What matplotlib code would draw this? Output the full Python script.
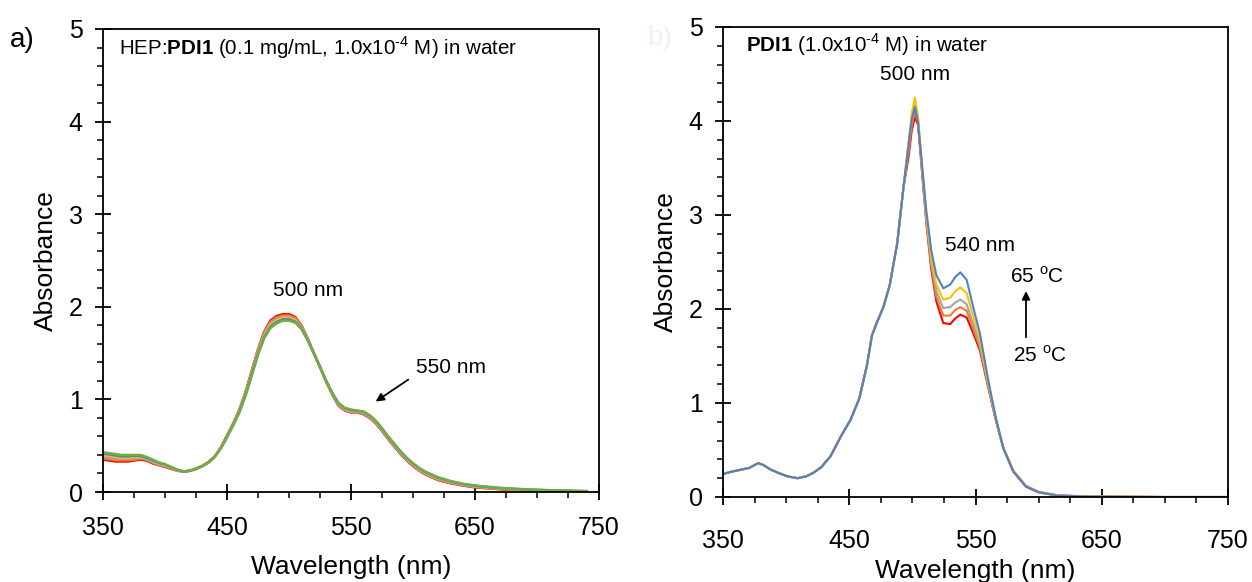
import numpy as np
import matplotlib
matplotlib.use('Agg')
import matplotlib.pyplot as plt
from matplotlib.ticker import MultipleLocator

plt.rcParams['font.family'] = ['Liberation Sans', 'DejaVu Sans']
plt.rcParams['mathtext.fontset'] = 'custom'
plt.rcParams['mathtext.rm'] = 'Liberation Sans'
plt.rcParams['mathtext.bf'] = 'Liberation Sans:bold'

# ---- panel a: HEP:PDI1 in water, six temperatures ----
wl_a = [350, 355, 360, 365, 370, 375, 380, 385, 390, 395,
        400, 405, 410, 415, 420, 425, 430, 435, 440, 445,
        450, 455, 460, 465, 470, 475, 480, 485, 490, 495,
        500, 505, 510, 515, 520, 525, 530, 535, 540, 545,
        550, 555, 560, 565, 570, 575, 580, 585, 590, 595,
        600, 605, 610, 615, 620, 630, 640, 650, 670, 690,
        710, 740]
red_a = [.35, .34, .33, .33, .33, .34, .35, .34, .31, .29,
         .27, .25, .23, .22, .23, .25, .28, .32, .38, .48,
         .61, .74, .89, 1.08, 1.31, 1.54, 1.73, 1.85, 1.90, 1.92,
         1.92, 1.89, 1.80, 1.66, 1.50, 1.35, 1.19, 1.05, .93, .88,
         .86, .86, .84, .80, .74, .66, .57, .49, .41, .34,
         .28, .23, .19, .16, .13, .095, .07, .05, .03, .015,
         .008, .003]
orange_a = [.365, .355, .345, .345, .345, .35, .36, .35, .32, .295,
            .275, .255, .23, .22, .23, .25, .28, .32, .38, .48,
            .605, .735, .88, 1.07, 1.30, 1.53, 1.72, 1.835, 1.885, 1.905,
            1.905, 1.88, 1.79, 1.655, 1.50, 1.35, 1.19, 1.055, .935, .885,
            .865, .865, .845, .805, .745, .665, .575, .495, .415, .345,
            .285, .235, .195, .165, .135, .10, .074, .054, .033, .018,
            .010, .004]
gray_a = [.38, .37, .36, .36, .36, .365, .37, .355, .325, .30,
          .28, .26, .235, .22, .23, .25, .28, .32, .38, .475,
          .60, .73, .875, 1.06, 1.29, 1.52, 1.70, 1.82, 1.87, 1.89,
          1.89, 1.865, 1.785, 1.65, 1.50, 1.35, 1.195, 1.06, .94, .89,
          .87, .87, .85, .81, .75, .67, .58, .50, .42, .35,
          .29, .24, .20, .17, .14, .105, .078, .058, .036, .021,
          .013, .005]
yellow_a = [.40, .39, .38, .37, .37, .375, .38, .365, .335, .31,
            .29, .26, .235, .22, .23, .25, .28, .32, .38, .475,
            .60, .73, .87, 1.055, 1.28, 1.50, 1.69, 1.80, 1.85, 1.88,
            1.88, 1.855, 1.775, 1.65, 1.50, 1.35, 1.195, 1.06, .95, .90,
            .88, .87, .86, .82, .76, .68, .59, .51, .43, .36,
            .30, .25, .21, .18, .15, .11, .082, .062, .039, .024,
            .015, .007]
blue_a = [.415, .405, .395, .385, .385, .39, .39, .37, .34, .315,
          .295, .265, .24, .22, .23, .25, .28, .32, .38, .47,
          .595, .725, .865, 1.05, 1.27, 1.49, 1.675, 1.785, 1.835, 1.865,
          1.865, 1.84, 1.77, 1.645, 1.50, 1.35, 1.20, 1.065, .955, .905,
          .885, .875, .865, .825, .765, .685, .595, .515, .435, .365,
          .305, .255, .215, .185, .155, .115, .086, .066, .042, .027,
          .018, .009]
green_a = [.43, .42, .41, .40, .40, .40, .40, .38, .35, .32,
           .30, .27, .24, .22, .23, .25, .28, .32, .38, .47,
           .59, .72, .86, 1.04, 1.26, 1.48, 1.66, 1.77, 1.82, 1.85,
           1.85, 1.83, 1.76, 1.64, 1.50, 1.35, 1.20, 1.07, .96, .91,
           .89, .88, .87, .83, .77, .69, .60, .52, .44, .37,
           .31, .26, .22, .19, .16, .12, .09, .07, .045, .03,
           .02, .01]

# ---- panel b: PDI1 in water, 25 -> 65 oC ----
wl_b = [350, 357, 364, 371, 375, 378, 382, 388, 395, 401,
        409, 416, 422, 428, 435, 444, 451, 458, 464, 468,
        472, 477, 482, 488, 493, 497, 499.5, 502, 504.5, 507.5,
        511, 515, 519, 524.5, 530, 534, 538, 543, 548, 553.5,
        560, 566, 572, 580, 590, 600, 615, 640, 700, 750]
# blue edge of the band, same for every temperature
rise_b = [0.245, 0.27, 0.29, 0.31, 0.34, 0.36, 0.34, 0.29, 0.25, 0.22,
          0.20, 0.22, 0.26, 0.32, 0.43, 0.66, 0.82, 1.05, 1.40, 1.72,
          1.86, 2.02, 2.25, 2.70, 3.30]
red_b = rise_b + [3.62, 3.90, 4.04, 3.96, 3.48,
                  2.92, 2.42, 2.08, 1.85, 1.84, 1.90, 1.94, 1.91, 1.75, 1.56,
                  1.17, 0.82, 0.52, 0.27, 0.11, 0.05, 0.015, 0.004, 0.0, 0.0]
orange_b = rise_b + [3.68, 3.95, 4.10, 3.98, 3.50,
                     2.95, 2.46, 2.13, 1.93, 1.93, 1.99, 2.02, 1.98, 1.80, 1.59,
                     1.19, 0.83, 0.53, 0.28, 0.12, 0.055, 0.02, 0.006, 0.0, 0.0]
gray_b = rise_b + [3.74, 4.02, 4.18, 4.01, 3.52,
                   2.97, 2.50, 2.19, 2.01, 2.02, 2.07, 2.10, 2.05, 1.85, 1.62,
                   1.20, 0.83, 0.52, 0.27, 0.11, 0.05, 0.015, 0.004, 0.0, 0.0]
yellow_b = rise_b + [3.78, 4.08, 4.25, 4.05, 3.55,
                     3.00, 2.55, 2.26, 2.10, 2.12, 2.19, 2.23, 2.17, 1.93, 1.67,
                     1.22, 0.84, 0.52, 0.27, 0.11, 0.05, 0.015, 0.004, 0.0, 0.0]
blue_b = rise_b + [3.75, 4.02, 4.15, 3.98, 3.55,
                   3.05, 2.62, 2.36, 2.22, 2.26, 2.34, 2.39, 2.31, 2.03, 1.74,
                   1.25, 0.85, 0.52, 0.27, 0.11, 0.05, 0.015, 0.004, 0.0, 0.0]

xticks = [350, 450, 550, 650, 750]
yticks = [0, 1, 2, 3, 4, 5]

c_red, c_orange, c_gray = '#FF0000', '#ED7D31', '#A5A5A5'
c_yellow, c_blue, c_green = '#FFC000', '#4F81C9', '#70AD47'

fig = plt.figure(figsize=(12.52, 5.82), dpi=100)
ax1 = fig.add_axes([103/1252, (582-492)/582, 496/1252, 463/582])
ax2 = fig.add_axes([723/1252, (582-497)/582, 505/1252, 470/582])

for y, c in zip([red_a, orange_a, gray_a, yellow_a, blue_a, green_a],
                [c_red, c_orange, c_gray, c_yellow, c_blue, c_green]):
    ax1.plot(wl_a, y, color=c, lw=1.8)

for y, c in zip([red_b, orange_b, gray_b, yellow_b, blue_b],
                [c_red, c_orange, c_gray, c_yellow, c_blue]):
    ax2.plot(wl_b, y, color=c, lw=1.5)

for ax, xpad, lpad in ((ax1, 11.8, 11), (ax2, 17.6, 4)):
    ax.set_xlim(350, 750)
    ax.set_ylim(0, 5)
    ax.set_xticks(xticks)
    ax.set_yticks(yticks)
    ax.xaxis.set_minor_locator(MultipleLocator(25))
    ax.yaxis.set_minor_locator(MultipleLocator(0.2))
    ax.tick_params(which='major', direction='inout', length=11, width=1.3, labelsize=18)
    ax.tick_params(axis='x', which='major', pad=xpad)
    ax.tick_params(axis='y', which='major', pad=9)
    ax.tick_params(which='minor', direction='out', length=4, width=1.1)
    for s in ax.spines.values():
        s.set_linewidth(1.3)
    ax.set_xlabel('Wavelength (nm)', fontsize=19, labelpad=lpad)
    ax.set_ylabel('Absorbance', fontsize=19, labelpad=8)

# annotations panel a
ax1.text(363, 4.8, r'HEP:$\mathbf{PDI1}$ (0.1 mg/mL, 1.0x10$^{\text{-4}}$ M) in water',
         fontsize=14.8, va='center', ha='left')
ax1.text(515, 2.18, '500 nm', fontsize=15, ha='center', va='center')
ax1.text(631, 1.34, '550 nm', fontsize=15, ha='center', va='center')
ax1.annotate('', xy=(568, 0.96), xytext=(598, 1.23),
             arrowprops=dict(arrowstyle='-|>', color='black', lw=1.3, mutation_scale=12))

# annotations panel b
ax2.text(368, 4.81, r'$\mathbf{PDI1}$ (1.0x10$^{\text{-4}}$ M) in water',
         fontsize=14.8, va='center', ha='left')
ax2.text(502, 4.5, '500 nm', fontsize=15, ha='center', va='center')
ax2.text(553.5, 2.68, '540 nm', fontsize=15, ha='center', va='center')
ax2.text(599, 2.35, r'65 $^{\mathrm{o}}$C', fontsize=15, ha='center', va='center')
ax2.text(601, 1.51, r'25 $^{\mathrm{o}}$C', fontsize=15, ha='center', va='center')
ax2.annotate('', xy=(590, 2.22), xytext=(590, 1.67),
             arrowprops=dict(arrowstyle='-|>', color='black', lw=1.3, mutation_scale=12))

fig.text(22/1252, 1 - 40/582, 'a)', fontsize=20, ha='center', va='center')
fig.text(660/1252, 1 - 38/582, 'b)', fontsize=20, ha='center', va='center', color='#f6efef')

fig.savefig('out.png', dpi=100)
